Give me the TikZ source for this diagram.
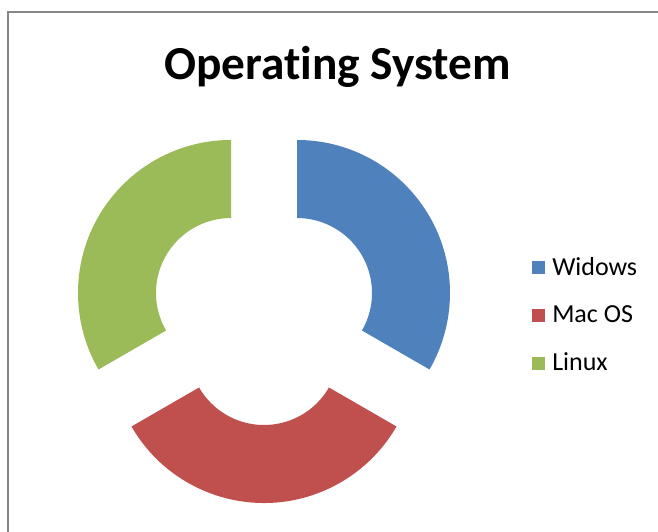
\documentclass[tikz,border=0pt]{standalone}
\usepackage{fontspec}
\setmainfont{Carlito}[Ligatures=NoCommon]
\usetikzlibrary{positioning}

\definecolor{winblue}{HTML}{4F81BD}
\definecolor{macred}{HTML}{C0504D}
\definecolor{linuxgreen}{HTML}{9BBB59}
\definecolor{framegray}{HTML}{878787}

\tikzset{
	legendbox/.style={minimum size=13*0.75pt, inner sep=0pt},
	legendtext/.style={inner sep=0pt, anchor=base west, font=\fontsize{19.5}{22}\selectfont},
}

\begin{document}
\begin{tikzpicture}[x=0.75pt, y=0.75pt]
					
					\useasboundingbox (0,0) rectangle (658,532);
					
					\draw[framegray, line width=1.5pt] (8,-20) -- (8,520) -- (680,520);
					
					\node[inner sep=0pt, anchor=base, font=\bfseries\fontsize{35.5}{40}\selectfont] (title) at (337.5,452) {Operating System};
					
					\coordinate (cwin) at (297,239);
					\coordinate (cmac) at (264,182);
					\coordinate (clinux) at (231,239);
					
					\fill[winblue] (cwin) ++(90:153) arc[start angle=90, end angle=-30, radius=153] -- ++(150:78) arc[start angle=-30, end angle=90, radius=75] -- cycle;
					
					\fill[macred] (cmac) ++(210:153) arc[start angle=210, end angle=330, radius=153] -- ++(150:78) arc[start angle=330, end angle=210, radius=75] -- cycle;
					
					\fill[linuxgreen] (clinux) ++(90:153) arc[start angle=90, end angle=210, radius=153] -- ++(30:78) arc[start angle=210, end angle=90, radius=75] -- cycle;
					
					\node[legendbox, fill=winblue] (kwin) at (538,264) {};
					\node[legendbox, fill=macred] (kmac) at (538,216.5) {};
					\node[legendbox, fill=linuxgreen] (klinux) at (538,168.5) {};
					
					\node[legendtext] (lwin) at (552,256.3) {Widows};
					\node[legendtext] (lmac) at (552,209) {Mac OS};
					\node[legendtext] (llinux) at (552,161) {Linux};
					
				\end{tikzpicture}
\end{document}
